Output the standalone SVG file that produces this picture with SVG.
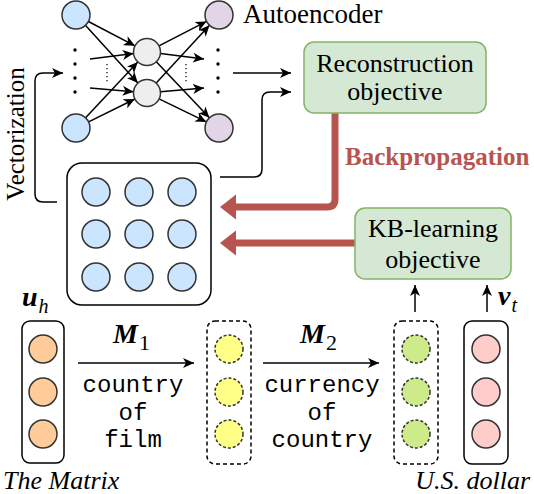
<svg xmlns="http://www.w3.org/2000/svg" width="534" height="494" viewBox="0 0 534 494">
<style>
.serif{font-family:'Liberation Serif','Times New Roman',Tinos,'DejaVu Serif',serif;fill:#000}
.mono{font-family:'Liberation Mono','Courier New',Cousine,monospace;font-size:24px;fill:#000;text-anchor:middle}
.c{stroke:#333;stroke-width:1.5}
.blue{fill:#cce5ff}
.purple{fill:#e1d5e7}
.gray{fill:#eeeeee}
.ln{stroke:#000;stroke-width:1.5;fill:none}
.box{fill:#fff;stroke:#000;stroke-width:1.5}
.dbox{fill:#fff;stroke:#000;stroke-width:1.5;stroke-dasharray:4 3}
.obj{fill:#d5e8d4;stroke:#82b366;stroke-width:1.5}
.red{stroke:#b85450;stroke-width:7;fill:none}
.dot{fill:#000}
</style>
<defs>
<marker id="ah" markerUnits="userSpaceOnUse" markerWidth="12" markerHeight="10" refX="11" refY="5" orient="auto">
<path d="M0,0 L11,5 L0,10 L3,5 Z" fill="#000"/>
</marker>
</defs>

<g id="connectors">
<g marker-end="url(#ah)" class="ln">
<line x1="88.4" y1="21.5" x2="135" y2="45.8"/>
<line x1="85.4" y1="25.3" x2="137.9" y2="83"/>
<line x1="85.6" y1="117.8" x2="137.8" y2="61.9"/>
<line x1="88.6" y1="121.8" x2="134.9" y2="99"/>
<line x1="90" y1="59" x2="133.6" y2="53.6"/>
<line x1="90" y1="88" x2="133.6" y2="91.8"/>
<line x1="159" y1="45.8" x2="206.5" y2="21.4"/>
<line x1="156.3" y1="61.8" x2="209.4" y2="117.8"/>
<line x1="160.4" y1="53.6" x2="204" y2="59"/>
<line x1="156.2" y1="83.1" x2="209.5" y2="25.3"/>
<line x1="159.1" y1="98.9" x2="206.4" y2="121.9"/>
<line x1="160.4" y1="91.8" x2="204" y2="88"/>
<line x1="233" y1="73" x2="291" y2="73"/>
<path d="M220,177 H254 Q262,177 262,169 V100 Q262,92 270,92 H291"/>
<path d="M57,202 H43 Q35,202 35,194 V81 Q35,73 43,73 H63"/>
<line x1="78" y1="363" x2="194" y2="363"/>
<line x1="263" y1="363" x2="379" y2="363"/>
<line x1="415" y1="312" x2="415" y2="285"/>
<line x1="487" y1="312" x2="487" y2="285"/>
</g>
<path class="red" d="M335,113 V199 Q335,207 327,207 H234"/>
<polygon points="220,207 236,194.5 236,219.5" fill="#b85450"/>
<path class="red" d="M355,243 H234"/>
<polygon points="220,243 236,230.5 236,255.5" fill="#b85450"/>
</g>

<g id="autoencoder">
<circle class="c blue" cx="76" cy="15" r="14"/>
<circle class="c blue" cx="76" cy="128" r="14"/>
<circle class="c gray" cx="147" cy="52" r="13.5"/>
<circle class="c gray" cx="147" cy="93" r="13.5"/>
<circle class="c purple" cx="219" cy="15" r="14"/>
<circle class="c purple" cx="219" cy="128" r="14"/>
<g class="dot">
<circle cx="75" cy="50" r="1.7"/><circle cx="75" cy="64" r="1.7"/><circle cx="75" cy="78" r="1.7"/><circle cx="75" cy="92" r="1.7"/>
<circle cx="218" cy="50" r="1.7"/><circle cx="218" cy="64" r="1.7"/><circle cx="218" cy="78" r="1.7"/><circle cx="218" cy="92" r="1.7"/>
</g>
<line x1="107" y1="64" x2="107" y2="83" stroke="#000" stroke-width="1.2" stroke-dasharray="1.2 2.8"/>
<line x1="186" y1="64" x2="186" y2="83" stroke="#000" stroke-width="1.2" stroke-dasharray="1.2 2.8"/>
<text class="serif" x="243" y="23" font-size="27">Autoencoder</text>
</g>

<g id="reconstruction">
<rect class="obj" x="304" y="42" width="182" height="71" rx="10"/>
<text class="serif" x="395" y="72" font-size="26" text-anchor="middle">Reconstruction</text>
<text class="serif" x="395" y="100" font-size="26" text-anchor="middle">objective</text>
</g>

<g id="backprop-label">
<text class="serif" x="345" y="165" font-size="25" font-weight="bold" style="fill:#b85450">Backpropagation</text>
</g>

<g id="vectorization-label">
<text class="serif" transform="translate(23.5,134) rotate(-90)" font-size="25" text-anchor="middle">Vectorization</text>
</g>

<g id="matrix">
<rect class="box" x="67" y="163" width="144" height="142" rx="15"/>
<circle class="c blue" cx="96" cy="192" r="14"/>
<circle class="c blue" cx="139" cy="192" r="14"/>
<circle class="c blue" cx="182" cy="192" r="14"/>
<circle class="c blue" cx="96" cy="234" r="14"/>
<circle class="c blue" cx="139" cy="234" r="14"/>
<circle class="c blue" cx="182" cy="234" r="14"/>
<circle class="c blue" cx="96" cy="277" r="14"/>
<circle class="c blue" cx="139" cy="277" r="14"/>
<circle class="c blue" cx="182" cy="277" r="14"/>
</g>

<g id="kb-learning">
<rect class="obj" x="355" y="208" width="156" height="71" rx="10"/>
<text class="serif" x="433" y="237" font-size="26" text-anchor="middle">KB-learning</text>
<text class="serif" x="433" y="268" font-size="26" text-anchor="middle">objective</text>
</g>

<g id="uh">
<rect class="box" x="22" y="321" width="42" height="142" rx="8"/>
<circle class="c" fill="#ffcc99" cx="43" cy="349" r="14"/>
<circle class="c" fill="#ffcc99" cx="43" cy="392" r="14"/>
<circle class="c" fill="#ffcc99" cx="43" cy="434" r="14"/>
<text class="serif" x="22" y="306" font-size="28" font-weight="bold" font-style="italic">u<tspan font-size="20" font-weight="normal" dx="1" dy="7">h</tspan></text>
<text class="serif" x="3" y="489" font-size="26" font-style="italic">The Matrix</text>
</g>

<g id="m1-label">
<text class="serif" x="113" y="343" font-size="28" font-weight="bold" font-style="italic">M<tspan font-size="22" font-weight="normal" font-style="normal" dx="1" dy="7">1</tspan></text>
<text class="mono" x="133" y="392">country</text>
<text class="mono" x="133" y="419.5">of</text>
<text class="mono" x="133" y="447">film</text>
</g>

<g id="mid1">
<rect class="dbox" x="207" y="321" width="44" height="143" rx="8"/>
<circle class="c" fill="#ffff88" stroke-dasharray="3 2" cx="229" cy="349" r="14"/>
<circle class="c" fill="#ffff88" stroke-dasharray="3 2" cx="229" cy="392" r="14"/>
<circle class="c" fill="#ffff88" stroke-dasharray="3 2" cx="229" cy="434" r="14"/>
</g>

<g id="m2-label">
<text class="serif" x="300" y="343" font-size="28" font-weight="bold" font-style="italic">M<tspan font-size="22" font-weight="normal" font-style="normal" dx="1" dy="7">2</tspan></text>
<text class="mono" x="322" y="392">currency</text>
<text class="mono" x="322" y="419.5">of</text>
<text class="mono" x="322" y="447">country</text>
</g>

<g id="mid2">
<rect class="dbox" x="394" y="321" width="44" height="143" rx="8"/>
<circle class="c" fill="#cdeb8b" stroke-dasharray="3 2" cx="416" cy="349" r="14"/>
<circle class="c" fill="#cdeb8b" stroke-dasharray="3 2" cx="416" cy="392" r="14"/>
<circle class="c" fill="#cdeb8b" stroke-dasharray="3 2" cx="416" cy="434" r="14"/>
</g>

<g id="vt">
<rect class="box" x="464" y="321" width="44" height="143" rx="8"/>
<circle class="c" fill="#ffcccc" cx="486" cy="349" r="14"/>
<circle class="c" fill="#ffcccc" cx="486" cy="392" r="14"/>
<circle class="c" fill="#ffcccc" cx="486" cy="434" r="14"/>
<text class="serif" x="498" y="305" font-size="28" font-weight="bold" font-style="italic">v<tspan font-size="20" font-weight="normal" dx="1" dy="7">t</tspan></text>
<text class="serif" x="530" y="489" font-size="26" font-style="italic" text-anchor="end">U.S. dollar</text>
</g>
</svg>
